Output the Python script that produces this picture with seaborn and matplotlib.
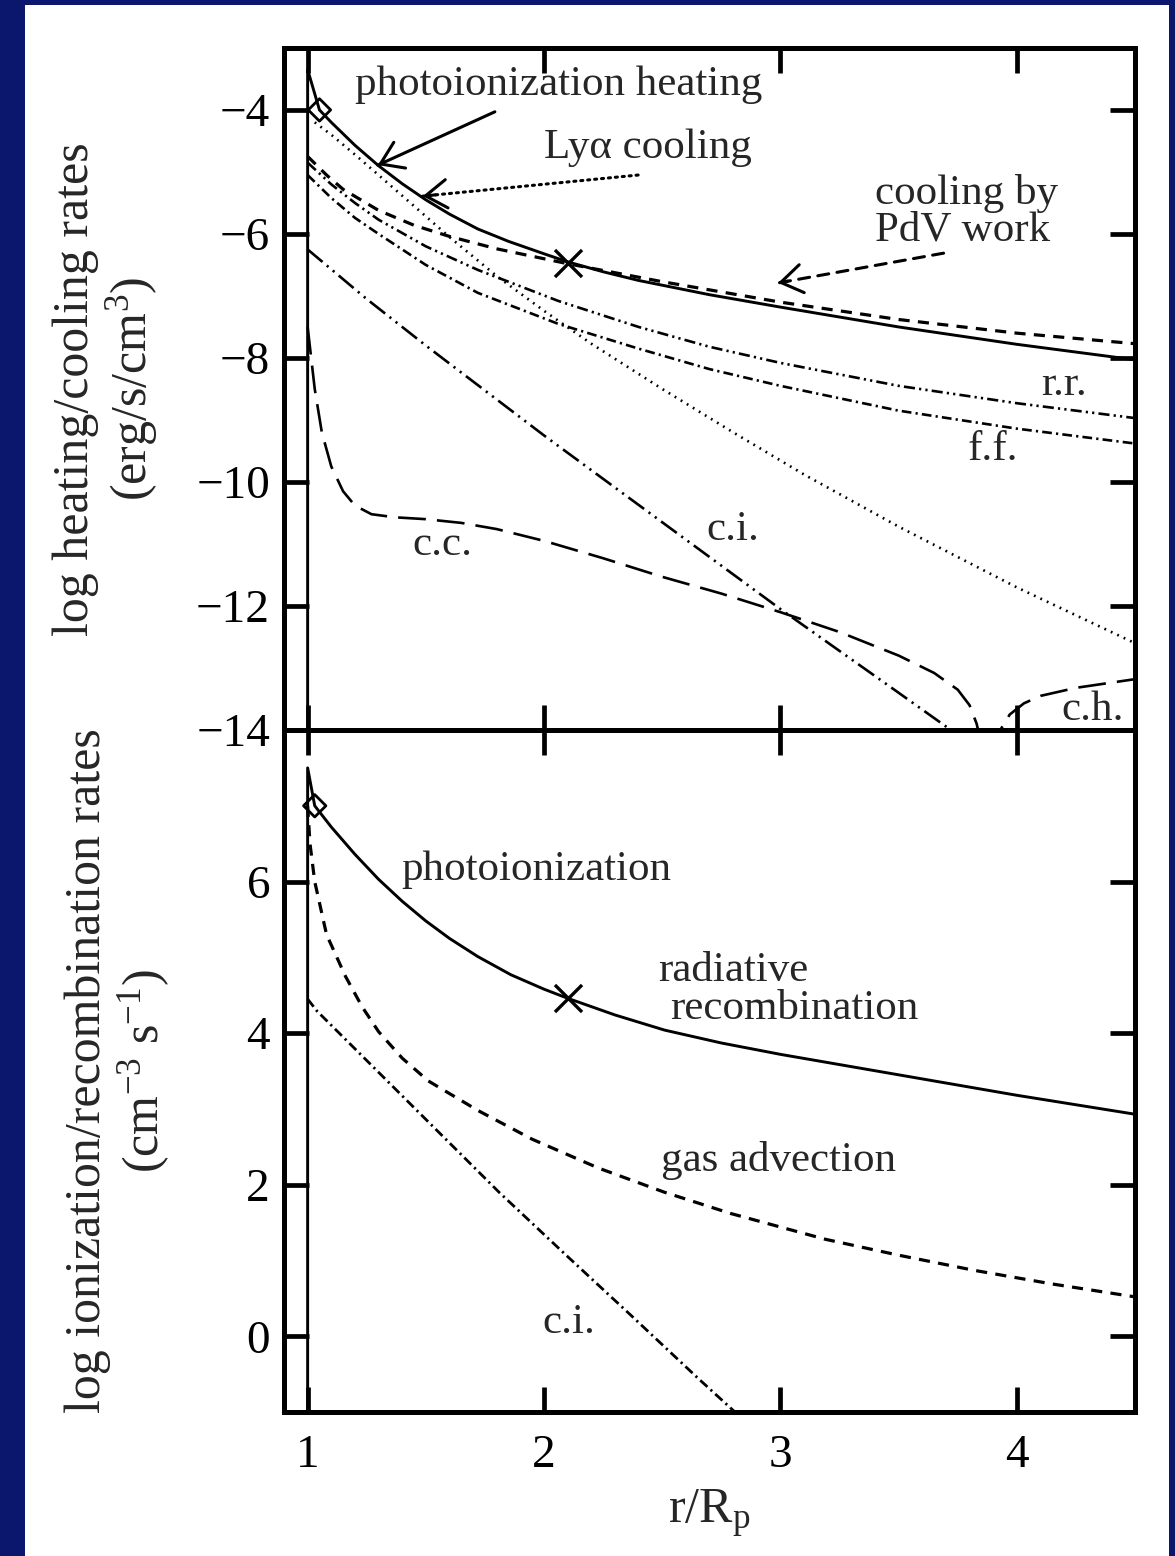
import matplotlib
matplotlib.use("Agg")
import matplotlib.pyplot as plt
from matplotlib.patches import Rectangle
import seaborn as sns

# ---- top panel: log heating / cooling rates (erg/s/cm^3) vs r/Rp ----
heat_r = [1.0, 1.0, 1.05, 1.10, 1.20, 1.30, 1.40, 1.50, 1.60, 1.72, 1.85, 2.00, 2.10,
          2.25, 2.40, 2.70, 3.00, 3.50, 4.00, 4.50]
heat_v = [-16.0, -3.35, -4.0, -4.2, -4.57, -4.9, -5.19, -5.45, -5.68, -5.92, -6.12, -6.32,
          -6.45, -6.61, -6.75, -6.98, -7.18, -7.5, -7.78, -8.03]

pdv_r = [1.0, 1.08, 1.15, 1.30, 1.45, 1.60, 1.80, 2.10, 2.50, 3.00, 3.50, 4.00, 4.50]
pdv_v = [-4.75, -5.05, -5.28, -5.62, -5.86, -6.04, -6.24, -6.48, -6.77, -7.10, -7.38, -7.60, -7.77]

lya_r = [1.03, 1.10, 1.20, 1.30, 1.45, 1.60, 1.80, 2.00, 2.20, 2.50, 2.80, 3.10, 3.50, 4.00, 4.50]
lya_v = [-4.2, -4.4, -4.72, -5.05, -5.55, -6.05, -6.68, -7.24, -7.77, -8.5, -9.2, -9.88,
         -10.72, -11.7, -12.6]

rr_r = [1.0, 1.10, 1.20, 1.30, 1.50, 1.72, 2.06, 2.40, 2.70, 3.00, 3.50, 4.00, 4.50]
rr_v = [-4.85, -5.2, -5.5, -5.77, -6.2, -6.58, -7.08, -7.5, -7.82, -8.08, -8.45, -8.73, -8.97]

ff_r = [1.0, 1.10, 1.20, 1.30, 1.50, 1.72, 2.06, 2.40, 2.70, 3.00, 3.50, 4.00, 4.50]
ff_v = [-5.05, -5.42, -5.74, -6.0, -6.5, -6.95, -7.45, -7.85, -8.18, -8.45, -8.85, -9.14, -9.38]

ci_top_r = [1.0, 1.25, 1.50, 2.00, 2.50, 3.00, 3.50, 3.85]
ci_top_v = [-6.25, -7.05, -7.8, -9.25, -10.65, -12.05, -13.4, -14.35]

cc_r = [1.0, 1.03, 1.06, 1.10, 1.15, 1.20, 1.27, 1.37, 1.50, 1.65, 1.80, 2.00, 2.25, 2.50,
        2.75, 3.00, 3.25, 3.50, 3.65, 3.75, 3.80, 3.83, 3.86, 3.88]
cc_v = [-7.5, -8.5, -9.2, -9.75, -10.15, -10.38, -10.52, -10.57, -10.6, -10.66, -10.76,
        -10.95, -11.23, -11.53, -11.8, -12.1, -12.42, -12.8, -13.08, -13.35, -13.6, -13.9,
        -14.4, -15.0]

ch_r = [3.90, 3.93, 3.97, 4.03, 4.10, 4.25, 4.50]
ch_v = [-15.0, -14.0, -13.75, -13.57, -13.45, -13.32, -13.18]

top_diamond = (1.05, -4.0)
top_cross = (2.10, -6.47)

# ---- bottom panel: log ionization / recombination rates (cm^-3 s^-1) ----
ion_r = [1.0, 1.0, 1.03, 1.10, 1.20, 1.30, 1.40, 1.50, 1.60, 1.72, 1.86, 2.00, 2.10, 2.30,
         2.51, 2.75, 3.00, 3.50, 4.00, 4.50]
ion_v = [-2.0, 7.5, 7.0, 6.72, 6.36, 6.03, 5.74, 5.48, 5.25, 5.01, 4.77, 4.58, 4.46, 4.24,
         4.04, 3.87, 3.72, 3.45, 3.18, 2.93]

adv_r = [1.0, 1.01, 1.03, 1.08, 1.16, 1.23, 1.30, 1.40, 1.51, 1.72, 1.95, 2.23, 2.51, 2.79,
         3.19, 3.50, 3.82, 4.15, 4.50]
adv_v = [7.0, 6.5, 6.0, 5.3, 4.75, 4.35, 4.02, 3.67, 3.37, 2.98, 2.6, 2.22, 1.9, 1.62,
         1.28, 1.07, 0.87, 0.69, 0.52]

ci_bot_r = [1.0, 1.04, 1.24, 1.52, 1.81, 2.09, 2.37, 2.65, 2.85]
ci_bot_v = [4.45, 4.29, 3.67, 2.80, 1.90, 1.08, 0.27, -0.55, -1.12]

bot_diamond = (1.03, 7.0)
bot_cross = (2.10, 4.46)

x_ticks = [1, 2, 3, 4]
top_yticks = [-14, -12, -10, -8, -6, -4]
bot_yticks = [0, 2, 4, 6]

NAVY = "#0a176c"

sns.set_theme(style="ticks")
plt.rcParams["font.family"] = ["Liberation Serif", "DejaVu Serif"]
plt.rcParams["mathtext.fontset"] = "custom"
plt.rcParams["mathtext.rm"] = "Liberation Serif"
plt.rcParams["mathtext.default"] = "regular"
plt.rcParams["lines.scale_dashes"] = False

# line styles (points)
SOLID = "-"
DASH = (0, (8, 6))
LONGDASH = (0, (20, 8))
DOT = (0, (1.3, 3.8))
DASHDOT = (0, (7, 3, 1.6, 3))
DASHDOTDOT = (0, (8, 3, 1.6, 3, 1.6, 3))
LONGDASHDOTDOT = (0, (14, 4, 1.6, 4, 1.6, 4))


def curve(ax, r, v, ls, lw=1.9):
    sns.lineplot(x=r, y=v, ax=ax, color="black", linewidth=lw, linestyle=ls,
                 estimator=None, sort=False, legend=False)


def markers(ax, diamond, cross):
    sns.scatterplot(x=[diamond[0]], y=[diamond[1]], ax=ax, marker="D", s=130,
                    legend=False, zorder=5)
    coll = ax.collections[-1]
    coll.set_facecolor("none")
    coll.set_edgecolor("black")
    coll.set_linewidth(2.0)
    sns.scatterplot(x=[cross[0]], y=[cross[1]], ax=ax, marker="x", s=380,
                    color="black", linewidth=2.4, legend=False, zorder=5)


def arrow(ax, head, tail, ls):
    # shaft in the given style, head always solid
    ax.annotate("", xy=head, xytext=tail,
                arrowprops=dict(arrowstyle="-", lw=2.2, color="black", linestyle=ls,
                                shrinkA=0, shrinkB=0))
    near = (head[0] + 0.06 * (tail[0] - head[0]), head[1] + 0.06 * (tail[1] - head[1]))
    ax.annotate("", xy=head, xytext=near,
                arrowprops=dict(arrowstyle="->,head_length=0.45,head_width=0.3", lw=2.2,
                                color="black", mutation_scale=34, shrinkA=0, shrinkB=0))


fig, (ax1, ax2) = plt.subplots(2, 1, sharex=True, figsize=(11.75, 15.56), dpi=100)
fig.patch.set_facecolor(NAVY)
fig.subplots_adjust(left=0.2417, right=0.966, top=0.9692, bottom=0.0925, hspace=0)
fig.patches.append(Rectangle((25 / 1175, 0), 1144 / 1175, 1551 / 1556,
                             transform=fig.transFigure, facecolor="white",
                             edgecolor="none", zorder=-1))

# Top panel
curve(ax1, heat_r, heat_v, SOLID, lw=2.1)
curve(ax1, pdv_r, pdv_v, DASH, lw=2.3)
curve(ax1, lya_r, lya_v, DOT, lw=1.9)
curve(ax1, rr_r, rr_v, DASHDOTDOT)
curve(ax1, ff_r, ff_v, DASHDOT)
curve(ax1, ci_top_r, ci_top_v, LONGDASHDOTDOT)
curve(ax1, cc_r, cc_v, LONGDASH)
curve(ax1, ch_r, ch_v, LONGDASH)
markers(ax1, top_diamond, top_cross)

fs_note = 31
ax1.text(1.20, -3.60, "photoionization heating", fontsize=fs_note, ha="left", va="center")
ax1.text(2.00, -4.61, "Ly\u03b1 cooling", fontsize=fs_note, ha="left", va="center")
ax1.text(3.40, -5.34, "cooling by", fontsize=fs_note, ha="left", va="center")
ax1.text(3.40, -5.94, "PdV work", fontsize=fs_note, ha="left", va="center")
ax1.text(4.20, -8.44, "r.r.", fontsize=fs_note, ha="center", va="center")
ax1.text(3.90, -9.48, "f.f.", fontsize=fs_note, ha="center", va="center")
ax1.text(2.80, -10.77, "c.i.", fontsize=fs_note, ha="center", va="center")
ax1.text(1.57, -11.02, "c.c.", fontsize=fs_note, ha="center", va="center")
ax1.text(4.32, -13.68, "c.h.", fontsize=fs_note, ha="center", va="center")

arrow(ax1, (1.297, -4.89), (1.792, -4.03), "-")
arrow(ax1, (1.487, -5.39), (2.398, -5.05), (0, (1.5, 3.5)))
arrow(ax1, (2.99, -6.79), (3.69, -6.31), (0, (8, 6)))

ax1.set_ylim(-14, -3)
ax1.set_yticks(top_yticks)
ax1.set_ylabel("log heating/cooling rates\n(erg/s/cm$^3$)", fontsize=36, linespacing=1.12)
ax1.yaxis.set_label_coords(-0.146, 0.5)

# Bottom panel
curve(ax2, ion_r, ion_v, SOLID, lw=2.1)
curve(ax2, adv_r, adv_v, DASH, lw=2.3)
curve(ax2, ci_bot_r, ci_bot_v, DASHDOT, lw=2.0)
markers(ax2, bot_diamond, bot_cross)

ax2.text(1.394, 6.16, "photoionization", fontsize=fs_note, ha="left", va="center")
ax2.text(2.483, 4.82, "radiative", fontsize=fs_note, ha="left", va="center")
ax2.text(2.534, 4.32, "recombination", fontsize=fs_note, ha="left", va="center")
ax2.text(2.496, 2.32, "gas advection", fontsize=fs_note, ha="left", va="center")
ax2.text(2.106, 0.18, "c.i.", fontsize=fs_note, ha="center", va="center")

ax2.set_ylim(-1, 8)
ax2.set_yticks(bot_yticks)
ax2.set_xlim(0.9, 4.5)
ax2.set_xticks(x_ticks)
ax2.set_ylabel("log ionization/recombination rates\n(cm$^{-3}$ s$^{-1}$)", fontsize=36,
               linespacing=1.12)
ax2.yaxis.set_label_coords(-0.132, 0.5)
ax2.set_xlabel("r/R$_p$", fontsize=36, labelpad=8)

for ax in (ax1, ax2):
    ax.set_facecolor("white")
    ax.tick_params(which="major", direction="in", length=18, width=3.4,
                   top=True, right=True, bottom=True, left=True,
                   labelsize=34, pad=10, color="black", labelcolor="black")
    for sp in ax.spines.values():
        sp.set_visible(True)
        sp.set_linewidth(3.6)
        sp.set_color("black")
ax2.tick_params(axis="x", pad=16)

fig.savefig("out.png", dpi=100, facecolor=fig.get_facecolor())
